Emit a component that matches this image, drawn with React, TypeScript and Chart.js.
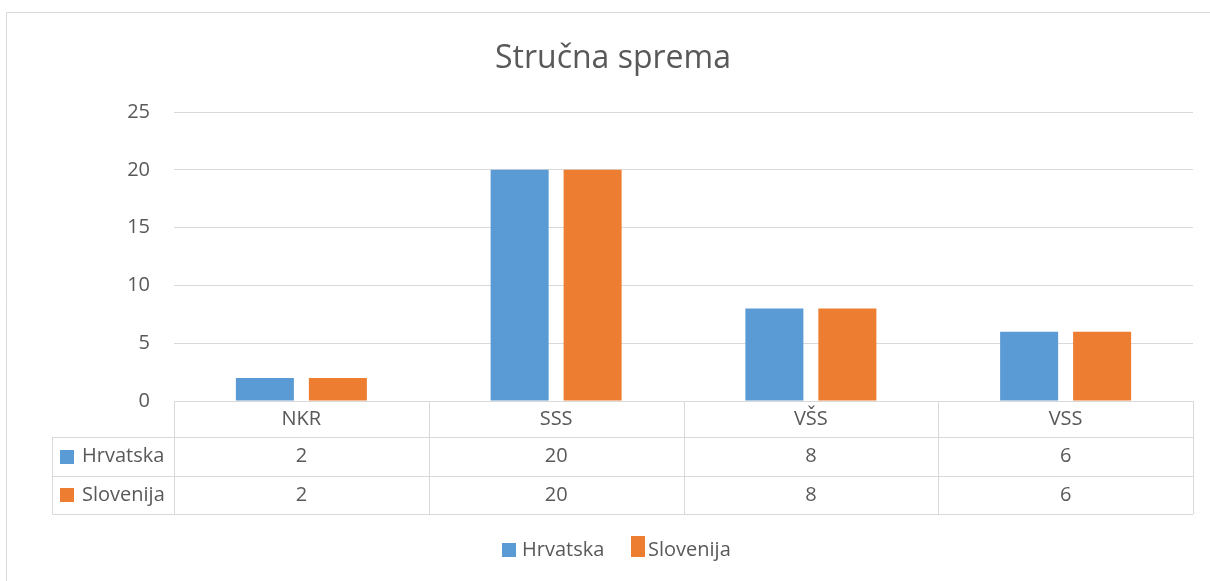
import React, { useEffect, useRef } from "react";
import { Chart, registerables } from "chart.js";

Chart.register(...registerables);

const categories = ["NKR", "SSS", "VŠS", "VSS"];
const seriesNames = ["Hrvatska", "Slovenija"];
const hrvatska = [2, 20, 8, 6];
const slovenija = [2, 20, 8, 6];
const seriesColors = ["#5B9BD5", "#ED7D31"];
const titleText = "Stručna sprema";

const FONT = "'Open Sans', sans-serif";
const TEXT = "#595959";
const LINE = "#d9d9d9";
const FS = 20;

const tablePlugin = {
  id: "excelTable",
  afterDraw(chart: any) {
    const ctx = chart.ctx as CanvasRenderingContext2D;
    const area = chart.chartArea;
    const xs = chart.scales.x;
    ctx.save();
    // outer frame
    ctx.strokeStyle = LINE;
    ctx.lineWidth = 1;
    ctx.beginPath();
    ctx.moveTo(6.5, 581);
    ctx.lineTo(6.5, 12.5);
    ctx.lineTo(1210, 12.5);
    ctx.stroke();

    // title
    ctx.fillStyle = TEXT;
    ctx.font = `32px ${FONT}`;
    ctx.textAlign = "center";
    ctx.textBaseline = "middle";
    ctx.fillText(titleText, 613, 59);

    // table
    const n = categories.length;
    const step = (area.right - area.left) / n;
    const rows = [401, 437, 476, 514];
    const labelLeft = 52.5;
    ctx.strokeStyle = LINE;
    ctx.beginPath();
    ctx.moveTo(area.left, rows[0] + 0.5);
    ctx.lineTo(area.right, rows[0] + 0.5);
    for (let r = 1; r < rows.length; r++) {
      ctx.moveTo(labelLeft, rows[r] + 0.5);
      ctx.lineTo(area.right, rows[r] + 0.5);
    }
    for (let i = 0; i <= n; i++) {
      const x = Math.round(area.left + step * i) + 0.5;
      ctx.moveTo(x, rows[0]);
      ctx.lineTo(x, rows[3]);
    }
    ctx.moveTo(labelLeft, rows[1]);
    ctx.lineTo(labelLeft, rows[3]);
    ctx.stroke();

    ctx.fillStyle = TEXT;
    ctx.font = `${FS}px ${FONT}`;
    ctx.textAlign = "center";
    ctx.textBaseline = "middle";
    categories.forEach((c, i) => {
      const cx = xs.getPixelForValue(i);
      ctx.fillText(c, cx, (rows[0] + rows[1]) / 2);
    });
    const data = [hrvatska, slovenija];
    data.forEach((vals, r) => {
      const cy = (rows[r + 1] + rows[r + 2]) / 2;
      vals.forEach((v, i) => {
        ctx.fillStyle = TEXT;
        ctx.textAlign = "center";
        ctx.fillText(String(v), xs.getPixelForValue(i), cy);
      });
      ctx.fillStyle = seriesColors[r];
      ctx.fillRect(60, Math.round(cy) - 7, 14, 14);
      ctx.fillStyle = TEXT;
      ctx.textAlign = "left";
      ctx.fillText(seriesNames[r], 82, cy);
    });

    // legend
    const ly = 550;
    ctx.fillStyle = seriesColors[0];
    ctx.fillRect(502, ly - 7, 14, 14);
    ctx.fillStyle = TEXT;
    ctx.textAlign = "left";
    ctx.fillText(seriesNames[0], 522, ly);
    ctx.fillStyle = seriesColors[1];
    ctx.fillRect(631, ly - 14, 14, 21);
    ctx.fillStyle = TEXT;
    ctx.fillText(seriesNames[1], 648, ly);
    ctx.restore();
  },
};

export default function App() {
  const ref = useRef<HTMLCanvasElement | null>(null);
  useEffect(() => {
    if (!ref.current) return;
    const chart = new Chart(ref.current, {
      type: "bar",
      data: {
        labels: categories,
        datasets: [
          {
            label: seriesNames[0],
            data: hrvatska,
            backgroundColor: seriesColors[0],
            categoryPercentage: 0.573,
            barPercentage: 0.795,
          },
          {
            label: seriesNames[1],
            data: slovenija,
            backgroundColor: seriesColors[1],
            categoryPercentage: 0.573,
            barPercentage: 0.795,
          },
        ],
      },
      options: {
        responsive: false,
        animation: false,
        layout: { padding: { left: 0, right: 17, top: 112, bottom: 180 } },
        plugins: {
          legend: { display: false },
          title: { display: false },
          tooltip: { enabled: false },
        },
        scales: {
          x: { display: false },
          y: {
            min: 0,
            max: 25,
            ticks: {
              stepSize: 5,
              color: TEXT,
              font: { family: FONT, size: FS },
              padding: 24,
            },
            grid: { color: LINE, drawTicks: false, lineWidth: 1 },
            border: { display: false },
            afterFit(scale: any) {
              scale.width = 174;
            },
          },
        },
      },
      plugins: [tablePlugin],
    });
    return () => chart.destroy();
  }, []);
  return (
    <div style={{ position: "absolute", left: 0, top: 0, width: 1210, height: 581, background: "#fff" }}>
      <canvas ref={ref} width={1210} height={581} style={{ display: "block" }} />
    </div>
  );
}
